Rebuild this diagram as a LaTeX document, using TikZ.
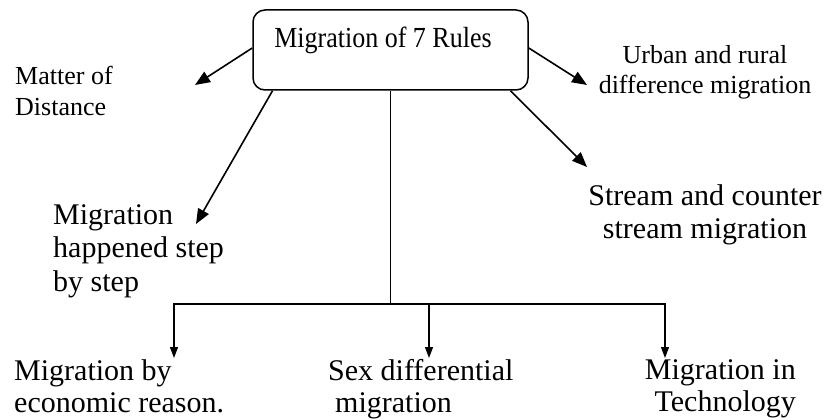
\documentclass[tikz,border=0pt]{standalone}
\usepackage{fontspec}
\usepackage{graphicx}
\setmainfont{Liberation Serif}
\usetikzlibrary{arrows.meta}
\begin{document}
\begin{tikzpicture}[x=1pt,y=-1pt,
  rootbox/.style={draw, line width=1.5pt, rounded corners=12pt, minimum width=275pt, minimum height=80pt, inner sep=0pt},
  small/.style={inner sep=0pt, font=\fontsize{26}{30.5}\selectfont},
  large/.style={inner sep=0pt, font=\fontsize{30}{33.5}\selectfont},
  bottomtext/.style={inner sep=0pt, font=\fontsize{30}{32}\selectfont},
  bigarrow/.style={line width=1.6pt, -{Triangle[length=15pt,width=12pt]}},
  smallarrow/.style={line width=1.2pt, -{Triangle[length=11pt,width=8pt]}},
  trunk/.style={line width=1.2pt}]
\useasboundingbox (0,0) rectangle (828,420);

% central box
\node[rootbox] (box) at (390.5,50) {};
\node[anchor=north, inner sep=0pt, font=\fontsize{26}{30}\selectfont] (title) at (383,27) {\scalebox{1}[1.12]{Migration of 7 Rules}};

% texts
\node[small, anchor=north west, align=left] (distance) at (15,66) {Matter of\\Distance};
\node[small, anchor=north, align=center] (urban) at (705,45) {Urban and rural\\difference migration};
\node[large, anchor=north, align=center] (stream) at (705,184) {Stream and counter\\stream migration};
\node[large, anchor=north west, align=left] (stepwise) at (53,204) {Migration\\happened step\\by step};
\node[bottomtext, anchor=north west, align=left] (economic) at (14,359) {Migration by\\economic reason.};
\node[bottomtext, anchor=north west, align=left] (sex) at (328,359) {Sex differential\\\hspace*{7pt}migration};
\node[bottomtext, anchor=north east, align=right] (tech) at (796,359) {Migration in\\Technology};

% arrow end points
\coordinate (tipDist) at (195,85);
\coordinate (tipUrban) at (587,85);
\coordinate (tipStream) at (587,167);
\coordinate (tipStep) at (196,224);
\coordinate (hub) at (390.5,304);
\coordinate (tipL) at (174,358);
\coordinate (tipM) at (429,358);
\coordinate (tipR) at (665,358);

% upper arrows
\draw[bigarrow] ([yshift=2pt]box.west) -- (tipDist);
\draw[bigarrow] ([yshift=2pt]box.east) -- (tipUrban);
\draw[bigarrow] ([xshift=120pt]box.south) -- (tipStream);
\draw[bigarrow] ([xshift=-118pt]box.south) -- (tipStep);

% trunk and branches
\draw[trunk] (box.south) -- (hub);
\draw[smallarrow] (hub) -| (tipL);
\draw[smallarrow] (hub) -| (tipR);
\draw[smallarrow] (hub -| tipM) -- (tipM);
\end{tikzpicture}
\end{document}
